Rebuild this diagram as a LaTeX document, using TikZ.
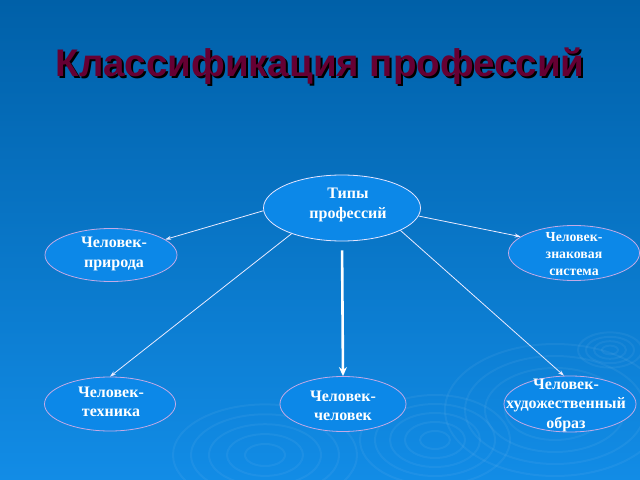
\documentclass[tikz,border=0pt]{standalone}
\usepackage{fontspec}
\setmainfont{Liberation Serif}
\newfontfamily\titlefont{Liberation Sans}
\usetikzlibrary{shapes.geometric,arrows.meta}
\definecolor{bgtop}{RGB}{0,96,168}
\definecolor{bgbot}{RGB}{18,140,230}
\definecolor{ellfill}{RGB}{12,136,232}
\definecolor{ellline}{RGB}{196,170,230}
\definecolor{titlecol}{RGB}{102,0,51}
\newcommand{\shadowtext}[1]{\rlap{\kern2bp\raisebox{-2bp}{\color{black}#1}}#1}
\tikzset{
  ell/.style={ellipse, fill=ellfill, draw=ellline, line width=0.8bp, inner sep=0pt},
  txt/.style={text=white, font=\bfseries\fontsize{16bp}{19.5bp}\selectfont, align=center, inner sep=0pt},
  txtsmall/.style={text=white, font=\bfseries\fontsize{13.8bp}{17bp}\selectfont, align=center, inner sep=0pt},
  conn/.style={draw=white!92!blue, line width=0.8bp, -{Stealth[length=6bp,width=4bp]}},
  connthick/.style={draw=white, line width=2.6bp, -{Stealth[length=9bp,width=8bp]}},
  ripple/.style={draw=white, opacity=0.05, line width=2bp}
}
\begin{document}
\begin{tikzpicture}[x=1bp,y=-1bp]
\useasboundingbox (0,0) rectangle (640,480);
\shade[top color=bgtop, bottom color=bgbot] (0,0) rectangle (640,480);
% decorative ripples
\foreach \r in {8,16,24,32}{\draw[ripple] (610,350) ellipse ({\r} and {0.55*\r});}
\foreach \r in {30,50,70,90,110}{\draw[ripple] (555,410) ellipse ({\r} and {0.6*\r});}
\foreach \r in {15,30,45,60,75}{\draw[ripple] (435,440) ellipse ({\r} and {0.6*\r});}
\foreach \r in {20,38,56,74,92}{\draw[ripple] (265,455) ellipse ({\r} and {0.55*\r});}
% title
\node[font=\titlefont\bfseries\fontsize{38.5bp}{42bp}\selectfont, text=titlecol, inner sep=0pt] (title) at (320,67) {\shadowtext{Классификация профессий}};
% nodes
\node[ell, draw=white!90!blue, minimum width=157bp, minimum height=66bp] (types) at (342,208) {};
\node[ell, minimum width=132bp, minimum height=53bp] (nat) at (111,255) {};
\node[ell, minimum width=131bp, minimum height=55bp] (sign) at (574,253) {};
\node[ell, minimum width=131bp, minimum height=54bp] (tech) at (110,404) {};
\node[ell, minimum width=126bp, minimum height=55bp] (hum) at (343,404) {};
\node[ell, minimum width=132bp, minimum height=56bp] (art) at (570,404) {};
% labels
\node[txt] (ltypes) at (348,205) {Типы\\профессий};
\node[txt] (lnat) at (114,254) {Человек-\\природа};
\node[txtsmall] (lsign) at (574,254) {Человек-\\знаковая\\система};
\node[txt] (ltech) at (111,402) {Человек-\\техника};
\node[txt] (lhum) at (343,406) {Человек-\\человек};
\node[txt] (lart) at (566,405) {Человек-\\художественный\\образ};
% connectors
\draw[conn] (types.182) -- (nat.16);
\draw[conn] (types.-6) -- (sign.163);
\draw[conn] (types.207) -- (tech.90);
\draw[conn] (types.-21) -- (art.102);
\draw[connthick, shorten <=9bp] (types.south) -- (hum.north);
\end{tikzpicture}
\end{document}
